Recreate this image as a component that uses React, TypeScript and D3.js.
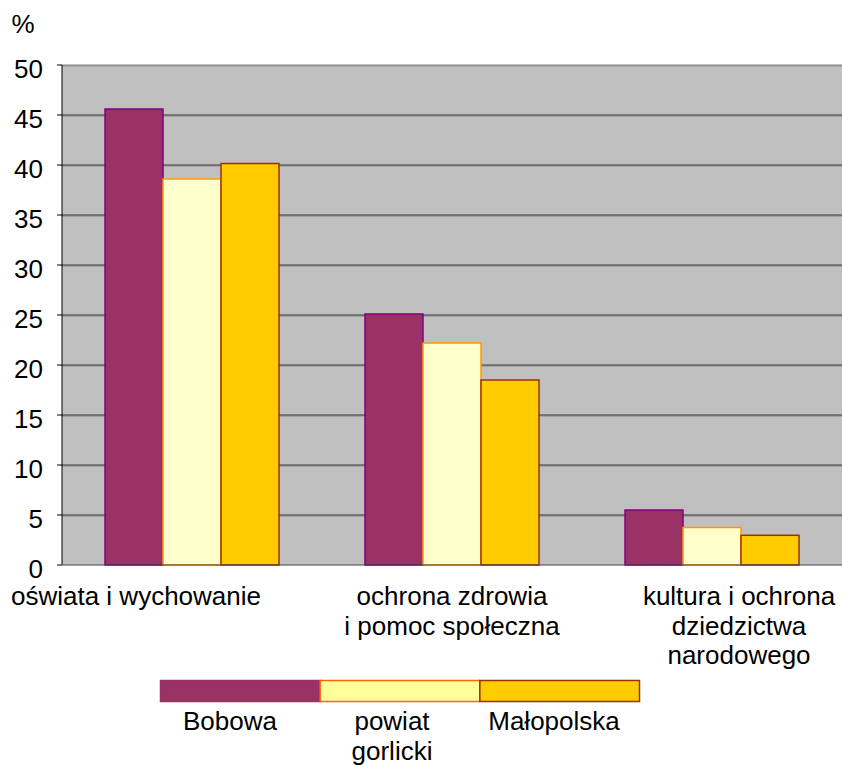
import React from "react";
import * as d3 from "d3";

const categories = [
  ["oświata i wychowanie"],
  ["ochrona zdrowia", "i pomoc społeczna"],
  ["kultura i ochrona", "dziedzictwa", "narodowego"],
];
const seriesNames = ["Bobowa", "powiat gorlicki", "Małopolska"];
const legendLines = [["Bobowa"], ["powiat", "gorlicki"], ["Małopolska"]];
const bobowa = [45.6, 25.1, 5.5];
const powiat = [38.6, 22.2, 3.75];
const malopolska = [40.15, 18.5, 2.97];
const yTicks = [0, 5, 10, 15, 20, 25, 30, 35, 40, 45, 50];

const fills = ["#993366", "#FFFFCC", "#FFCC00"];
const strokes = ["#800080", "#FF9900", "#993300"];
const legendFills = ["#993366", "#FFFF99", "#FFCC00"];
const legendStrokes = ["#993366", "#FF6600", "#993300"];
const labelShift = [-56, 0, 27];

const W = 842, H = 765;
const M = { left: 62, top: 65, right: 842, bottom: 565 };
const FONT = "Arial, 'Liberation Sans', sans-serif";
const FS = 26;

export default function App() {
  const series = [bobowa, powiat, malopolska];
  const x0 = d3.scaleBand<number>().domain(d3.range(categories.length)).range([M.left, M.right]).paddingInner(0).paddingOuter(0);
  const groupW = x0.bandwidth();
  const innerPad = (groupW - 174) / 2;
  const x1 = d3.scaleBand<number>().domain(d3.range(series.length)).range([innerPad, groupW - innerPad]);
  const y = d3.scaleLinear().domain([0, 50]).range([M.bottom, M.top]);
  const legendX = d3.scaleBand<number>().domain(d3.range(3)).range([160.5, 639.5]);

  return (
    <svg width={W} height={H} style={{ position: "absolute", left: 0, top: 0 }} fontFamily={FONT}>
      <rect x={M.left} y={M.top} width={M.right - M.left} height={M.bottom - M.top} fill="#C0C0C0" />
      {yTicks.map((t) => (
        <g key={t}>
          {t > 0 && (
            <>
              <line x1={M.left} x2={M.right} y1={y(t) + 1} y2={y(t) + 1} stroke="#888" strokeWidth={1} />
              <line x1={M.left} x2={M.right} y1={y(t)} y2={y(t)} stroke={t === 50 ? "#808080" : "#3a3a3a"} strokeWidth={1.2} />
            </>
          )}
          <line x1={M.left - 5} x2={M.left} y1={y(t)} y2={y(t)} stroke="#000" />
          <text x={43} y={y(t) + 6} textAnchor="end" dominantBaseline="middle" fontSize={FS} fill="#000">
            {t}
          </text>
        </g>
      ))}
      {categories.map((c, ci) =>
        series.map((s, si) => (
          <rect
            key={`${ci}-${si}`}
            x={(x0(ci) as number) + (x1(si) as number)}
            y={y(s[ci])}
            width={x1.bandwidth()}
            height={y(0) - y(s[ci])}
            fill={fills[si]}
            stroke={strokes[si]}
            strokeWidth={1.5}
          />
        ))
      )}
      <line x1={M.left} x2={M.left} y1={M.top} y2={M.bottom} stroke="#000" />
      <line x1={M.left} x2={M.right} y1={M.bottom} y2={M.bottom} stroke="#444" />
      <text x={23} y={26} textAnchor="middle" dominantBaseline="middle" fontSize={FS}>%</text>
      {categories.map((lines, ci) => (
        <text key={ci} textAnchor="middle" fontSize={FS} fill="#000">
          {lines.map((ln, li) => (
            <tspan key={li} x={(x0(ci) as number) + groupW / 2 + labelShift[ci]} y={605 + li * 29.5}>
              {ln}
            </tspan>
          ))}
        </text>
      ))}
      {seriesNames.map((n, i) => (
        <g key={n}>
          <rect x={legendX(i) as number} y={680.5} width={legendX.bandwidth()} height={21} fill={legendFills[i]} stroke={legendStrokes[i]} strokeWidth={1.5} />
        </g>
      ))}
      {legendLines.map((lines, i) => (
        <text key={i} textAnchor="middle" fontSize={FS} fill="#000">
          {lines.map((ln, li) => (
            <tspan key={li} x={[230, 392, 554][i]} y={730 + li * 30}>
              {ln}
            </tspan>
          ))}
        </text>
      ))}
    </svg>
  );
}
